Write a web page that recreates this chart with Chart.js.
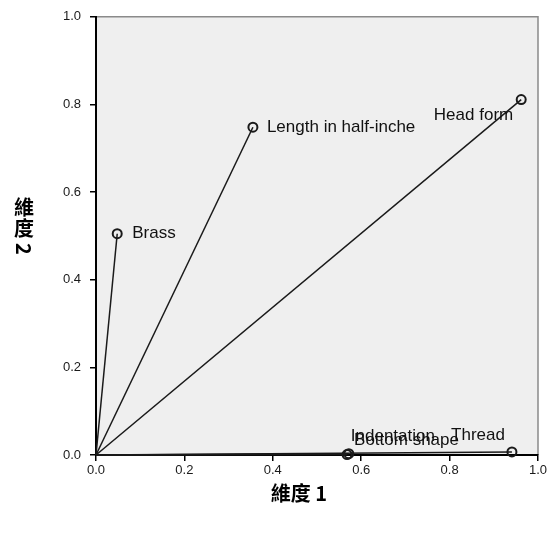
<!DOCTYPE html>
<html>
<head>
<meta charset="utf-8">
<script src="https://cdn.jsdelivr.net/npm/chart.js@4.4.0/dist/chart.umd.min.js"></script>
<style>
  html, body { margin: 0; padding: 0; background: #fff; }
  #wrap { width: 550px; height: 533px; }
</style>
</head>
<body>
<div id="wrap"><canvas id="chart" width="550" height="533"></canvas></div>
<script>
// variables and their loadings on the two dimensions
const variables = ["Brass", "Length in half-inche", "Head form", "Indentation", "Bottom shape", "Thread"];
const dim1 = [0.048, 0.355, 0.962, 0.572, 0.568, 0.941];
const dim2 = [0.505, 0.748, 0.811, 0.003, 0.001, 0.007];
const axisTicks = [0.0, 0.2, 0.4, 0.6, 0.8, 1.0];
// label placement: [dx, dy, align]
const labelPlace = [
  [15, 0, "left"], [14, 0, "left"], [-8, 16, "right"],
  [2, -17, "left"], [7, -14, "left"], [-7, -17, "right"]
];

const FONT = "'Liberation Sans', Arial, sans-serif";

const datasets = variables.map((name, i) => ({
  label: name,
  data: [{ x: 0, y: 0 }, { x: dim1[i], y: dim2[i] }],
  showLine: true,
  borderColor: "#1a1a1a",
  borderWidth: 1.5,
  pointRadius: [0, 4.5],
  pointBorderWidth: 2,
  pointBorderColor: "#1a1a1a",
  pointBackgroundColor: "rgba(0,0,0,0)",
  clip: false,
}));

const frame = {
  id: "frame",
  beforeDraw(chart) {
    const { ctx, chartArea: a } = chart;
    ctx.save();
    ctx.fillStyle = "#efefef";
    ctx.fillRect(a.left, a.top, a.right - a.left, a.bottom - a.top);
    ctx.strokeStyle = "#8a8a8a";
    ctx.lineWidth = 1.5;
    ctx.beginPath();
    ctx.moveTo(a.left, a.top);
    ctx.lineTo(a.right, a.top);
    ctx.lineTo(a.right, a.bottom);
    ctx.stroke();
    ctx.restore();
  },
  afterDraw(chart) {
    const { ctx, scales } = chart;
    ctx.save();
    // point labels
    ctx.fillStyle = "#111";
    ctx.font = "17px " + FONT;
    ctx.textBaseline = "middle";
    variables.forEach((name, i) => {
      const px = scales.x.getPixelForValue(dim1[i]);
      const py = scales.y.getPixelForValue(dim2[i]);
      const [dx, dy, align] = labelPlace[i];
      ctx.textAlign = align;
      ctx.fillText(name, px + dx, py + dy);
    });
    // axis titles
    ctx.font = "bold 20px 'Noto Sans CJK TC', " + FONT;
    ctx.textAlign = "center";
    ctx.fillStyle = "#000";
    ctx.fillText("維度 1", 299, 493);
    const cx = 24;
    ctx.fillText("維", cx, 207);
    ctx.fillText("度", cx, 228);
    ctx.translate(cx, 249);
    ctx.rotate(Math.PI / 2);
    ctx.fillText("2", 0, 0);
    ctx.restore();
  }
};

const tickOpts = {
  color: "#1a1a1a",
  font: { family: FONT, size: 13 },
  callback: (v) => Number(v).toFixed(1),
};

new Chart(document.getElementById("chart"), {
  type: "scatter",
  data: { datasets },
  options: {
    responsive: false,
    animation: false,
    layout: { padding: { left: 0, top: 15, right: 12, bottom: 0 } },
    plugins: { legend: { display: false }, tooltip: { enabled: false } },
    scales: {
      x: {
        type: "linear", min: 0, max: 1,
        afterBuildTicks: (s) => { s.ticks = axisTicks.map((v) => ({ value: v })); },
        afterFit: (s) => { s.height = 533 - 455; },
        grid: { drawOnChartArea: false, drawTicks: true, tickLength: 6, color: "#000", lineWidth: 1.5 },
        border: { display: true, color: "#000", width: 2 },
        ticks: Object.assign({ padding: 2, maxRotation: 0 }, tickOpts),
      },
      y: {
        type: "linear", min: 0, max: 1,
        afterBuildTicks: (s) => { s.ticks = axisTicks.map((v) => ({ value: v })); },
        afterFit: (s) => { s.width = 96; },
        grid: { drawOnChartArea: false, drawTicks: true, tickLength: 6, color: "#000", lineWidth: 1.5 },
        border: { display: true, color: "#000", width: 2 },
        ticks: Object.assign({ padding: 9 }, tickOpts),
      },
    },
  },
  plugins: [frame],
});
</script>
</body>
</html>
